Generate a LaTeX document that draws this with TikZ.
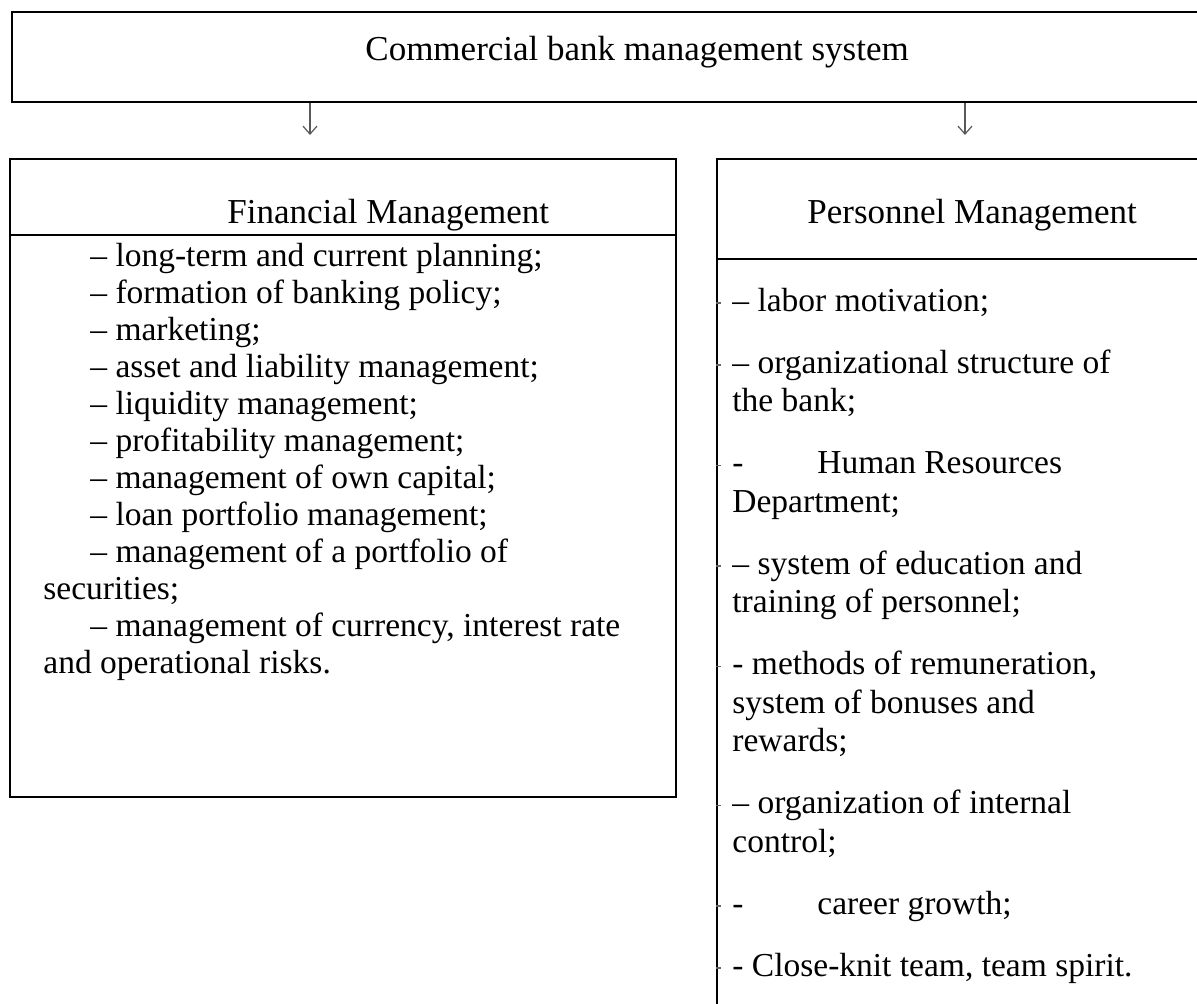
\documentclass[tikz,border=0pt]{standalone}
\usepackage{fontspec}
\setmainfont{Liberation Serif}
\usetikzlibrary{arrows.meta}

\begin{document}
\begin{tikzpicture}[x=0.5pt,y=-0.5pt,
    box/.style={draw, line width=1pt, inner sep=0pt},
    head/.style={anchor=base west, inner sep=0pt, font=\fontsize{17.5}{20}\selectfont},
    item/.style={anchor=base west, inner sep=0pt, font=\fontsize{16.75}{19}\selectfont},
    arr/.style={-{Straight Barb[length=4pt,width=7pt]}, line width=0.6pt, black!65}]
    \useasboundingbox (0,0) rectangle (1197,1003);
    \clip (0,0) rectangle (1197,1003);

    % frames
    \node[box, minimum width=601.5pt, minimum height=45pt] (sys) at (613.5,57) {};
    \node[box, minimum width=333pt, minimum height=319pt] (fin) at (343,478) {};
    \node[box, minimum width=249pt, minimum height=430.5pt] (pers) at (966,589.5) {};
    \draw[line width=1pt] (fin.west |- 0,235) -- (fin.east |- 0,235);
    \draw[line width=1pt] (pers.west |- 0,259) -- (pers.east |- 0,259);

    \node[head] (sysname) at (365,60) {Commercial bank management system};
    \node[head] (finname) at (227,223) {Financial Management};
    \node[head] (persname) at (807,223) {Personnel Management};

    \coordinate (fa) at (310,135);
    \coordinate (pa) at (965,135);
    \draw[arr] (sys.south -| fa) -- (fa);
    \draw[arr] (sys.south -| pa) -- (pa);

    % financial list
    \foreach \y/\x/\t [count=\i] in {
        266/90/{– long-term and current planning;},
        303/90/{– formation of banking policy;},
        340/90/{– marketing;},
        377/90/{– asset and liability management;},
        414/90/{– liquidity management;},
        451/90/{– profitability management;},
        488/90/{– management of own capital;},
        525/90/{– loan portfolio management;},
        562/90/{– management of a portfolio of},
        599/43/{securities;},
        636/90/{– management of currency, interest rate},
        673/43/{and operational risks.}}
        \node[item] (f\i) at (\x,\y) {\t};

    % personnel list
    \foreach \y/\t [count=\i] in {
        311/{– labor motivation;},
        373/{– organizational structure of},
        411.5/{the bank;},
        473.5/{\makebox[42.5pt][l]{-}Human Resources},
        512/{Department;},
        574/{– system of education and},
        612.5/{training of personnel;},
        674.5/{- methods of remuneration,},
        713/{system of bonuses and},
        751.5/{rewards;},
        813.5/{– organization of internal},
        852/{control;},
        914/{\makebox[42.5pt][l]{-}career growth;},
        976/{- Close-knit team, team spirit.}}
        \node[item] (p\i) at (732,\y) {\t};

    \foreach \y in {303,365,465.5,566,666.5,805.5,906,968}
        \draw[line width=0.8pt, black!60] (pers.west |- 0,\y) -- ++(5,0);
\end{tikzpicture}
\end{document}
